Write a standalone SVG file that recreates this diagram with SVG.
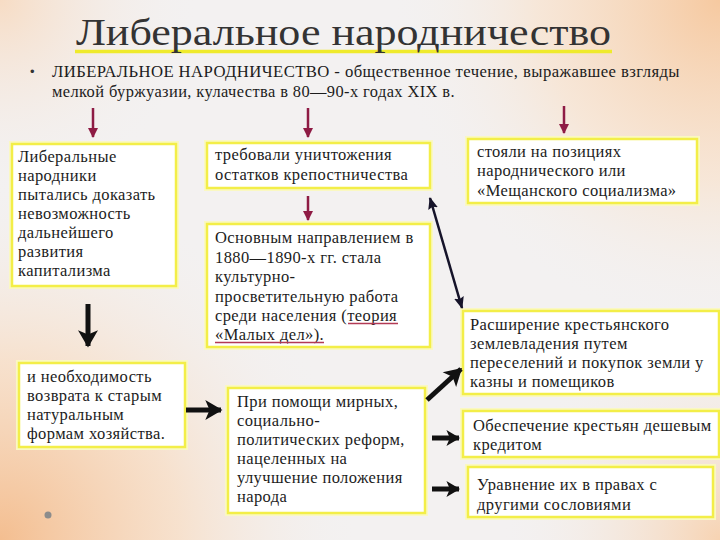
<svg xmlns="http://www.w3.org/2000/svg" width="720" height="540" viewBox="0 0 720 540">
<defs>
  <radialGradient id="bgTR" cx="720" cy="0" r="330" gradientUnits="userSpaceOnUse">
    <stop offset="0" stop-color="#F6C9A0"/>
    <stop offset="0.55" stop-color="#F8E2CD" stop-opacity="0.7"/>
    <stop offset="1" stop-color="#F3F1F1" stop-opacity="0"/>
  </radialGradient>
  <radialGradient id="bgBL" cx="0" cy="540" r="360" gradientUnits="userSpaceOnUse">
    <stop offset="0" stop-color="#F4BE90"/>
    <stop offset="0.5" stop-color="#F8DCC2" stop-opacity="0.75"/>
    <stop offset="1" stop-color="#F3F1F1" stop-opacity="0"/>
  </radialGradient>
  <radialGradient id="bgBR" cx="720" cy="540" r="220" gradientUnits="userSpaceOnUse">
    <stop offset="0" stop-color="#F7D3B2"/>
    <stop offset="1" stop-color="#F3F1F1" stop-opacity="0"/>
  </radialGradient>
  <radialGradient id="bgTL" cx="0" cy="0" r="200" gradientUnits="userSpaceOnUse">
    <stop offset="0" stop-color="#F7DCC4"/>
    <stop offset="1" stop-color="#F3F1F1" stop-opacity="0"/>
  </radialGradient>
  <marker id="redHead" viewBox="0 0 10 10" refX="9" refY="5" markerWidth="10" markerHeight="10" markerUnits="userSpaceOnUse" orient="auto">
    <path d="M0,0 L10,5 L0,10 z" fill="#8E1B44"/>
  </marker>
  <marker id="thinHead" viewBox="0 0 12 10" refX="11" refY="5" markerWidth="12" markerHeight="10" markerUnits="userSpaceOnUse" orient="auto-start-reverse">
    <path d="M0,0 L12,5 L0,10 L2,5 z" fill="#16142A"/>
  </marker>
  <marker id="thickHead" viewBox="0 0 12 14" refX="11" refY="7" markerWidth="14" markerHeight="16" markerUnits="userSpaceOnUse" orient="auto">
    <path d="M0,0 L12,7 L0,14 L3,7 z" fill="#111"/>
  </marker>
  <marker id="bigHead" viewBox="0 0 12 14" refX="11" refY="7" markerWidth="18" markerHeight="20" markerUnits="userSpaceOnUse" orient="auto">
    <path d="M0,0 L12,7 L0,14 L3,7 z" fill="#111"/>
  </marker>
  <style>
    .box { fill: #FFFFFF; stroke: #F3EE48; stroke-width: 2.5; }
    .glow { fill: none; stroke: #FAF8C2; stroke-width: 6; }
    .t { font-family: "Liberation Serif", "DejaVu Serif", serif; font-size: 16.5px; letter-spacing: 0.4px; fill: #1C1C1C; }
    .red { stroke: #8E1B44; stroke-width: 2.5; fill: none; }
    .thin { stroke: #16142A; stroke-width: 2.5; fill: none; }
    .thick { stroke: #111; stroke-width: 5; fill: none; }
    .ul { stroke: #B23A55; stroke-width: 1.3; }
  </style>
</defs>

<rect x="0" y="0" width="720" height="540" fill="#F3F1F1"/>
<rect x="0" y="0" width="720" height="540" fill="url(#bgTL)"/>
<rect x="0" y="0" width="720" height="540" fill="url(#bgTR)"/>
<rect x="0" y="0" width="720" height="540" fill="url(#bgBL)"/>
<rect x="0" y="0" width="720" height="540" fill="url(#bgBR)"/>

<g id="title">
  <line x1="75" y1="51.5" x2="612" y2="51.5" stroke="#EFEA2C" stroke-width="3.5"/>
  <text x="76" y="45" textLength="535" lengthAdjust="spacingAndGlyphs" font-family="Liberation Serif, DejaVu Serif, serif" font-size="38" fill="#333333">Либеральное народничество</text>
</g>

<g id="definition">
  <text x="30" y="76" font-family="Liberation Sans, sans-serif" font-size="13" fill="#333">•</text>
  <text class="t" x="52" y="77" textLength="628" lengthAdjust="spacingAndGlyphs">ЛИБЕРАЛЬНОЕ НАРОДНИЧЕСТВО - общественное течение, выражавшее взгляды</text>
  <text class="t" x="52" y="97" textLength="403" lengthAdjust="spacingAndGlyphs">мелкой буржуазии, кулачества в 80—90-х годах XIX в.</text>
</g>

<g id="node-liberal">
  <rect class="glow" x="12" y="144" width="164" height="142"/>
  <rect class="box" x="12" y="144" width="164" height="142"/>
  <text class="t" x="18" y="162">Либеральные</text>
  <text class="t" x="18" y="181">народники</text>
  <text class="t" x="18" y="200">пытались доказать</text>
  <text class="t" x="18" y="219">невозможность</text>
  <text class="t" x="18" y="238">дальнейшего</text>
  <text class="t" x="18" y="257">развития</text>
  <text class="t" x="18" y="276">капитализма</text>
</g>

<g id="node-demand">
  <rect class="glow" x="207" y="143" width="223" height="45"/>
  <rect class="box" x="207" y="143" width="223" height="45"/>
  <text class="t" x="215" y="160">требовали уничтожения</text>
  <text class="t" x="215" y="180">остатков крепостничества</text>
</g>

<g id="node-direction">
  <rect class="glow" x="207" y="224" width="223" height="123"/>
  <rect class="box" x="207" y="224" width="223" height="123"/>
  <text class="t" x="215" y="243">Основным направлением в</text>
  <text class="t" x="215" y="263">1880—1890-х гг. стала</text>
  <text class="t" x="215" y="282">культурно-</text>
  <text class="t" x="215" y="302">просветительную работа</text>
  <text class="t" x="215" y="321">среди населения (теория</text>
  <text class="t" x="215" y="340">«Малых дел»).</text>
  <line class="ul" x1="348" y1="323.5" x2="398" y2="323.5"/>
  <line class="ul" x1="215" y1="342.5" x2="324" y2="342.5"/>
</g>

<g id="node-position">
  <rect class="glow" x="468" y="139" width="229" height="64"/>
  <rect class="box" x="468" y="139" width="229" height="64"/>
  <text class="t" x="477" y="157">стояли на позициях</text>
  <text class="t" x="477" y="176">народнического или</text>
  <text class="t" x="477" y="196">«Мещанского социализма»</text>
</g>

<g id="node-return">
  <rect class="glow" x="19" y="363" width="166" height="84"/>
  <rect class="box" x="19" y="363" width="166" height="84"/>
  <text class="t" x="27" y="382">и необходимость</text>
  <text class="t" x="27" y="401">возврата к старым</text>
  <text class="t" x="27" y="420">натуральным</text>
  <text class="t" x="27" y="439">формам хозяйства.</text>
</g>

<g id="node-reforms">
  <rect class="glow" x="228" y="388" width="197" height="125"/>
  <rect class="box" x="228" y="388" width="197" height="125"/>
  <text class="t" x="237" y="407">При помощи мирных,</text>
  <text class="t" x="237" y="426">социально-</text>
  <text class="t" x="237" y="445">политических реформ,</text>
  <text class="t" x="237" y="464">нацеленных на</text>
  <text class="t" x="237" y="483">улучшение положения</text>
  <text class="t" x="237" y="502">народа</text>
</g>

<g id="node-land">
  <rect class="glow" x="463" y="311" width="256" height="83"/>
  <rect class="box" x="463" y="311" width="256" height="83"/>
  <text class="t" x="470" y="330">Расширение крестьянского</text>
  <text class="t" x="470" y="349">землевладения путем</text>
  <text class="t" x="470" y="368">переселений и покупок земли у</text>
  <text class="t" x="470" y="387">казны и помещиков</text>
</g>

<g id="node-credit">
  <rect class="glow" x="463" y="411" width="256" height="46"/>
  <rect class="box" x="463" y="411" width="256" height="46"/>
  <text class="t" x="473" y="431">Обеспечение крестьян дешевым</text>
  <text class="t" x="473" y="450">кредитом</text>
</g>

<g id="node-rights">
  <rect class="glow" x="468" y="467" width="245" height="50"/>
  <rect class="box" x="468" y="467" width="245" height="50"/>
  <text class="t" x="477" y="490">Уравнение их в правах с</text>
  <text class="t" x="477" y="510">другими сословиями</text>
</g>

<g id="connectors">
  <line class="red" x1="93" y1="108" x2="93" y2="137" marker-end="url(#redHead)"/>
  <line class="red" x1="308" y1="108" x2="308" y2="137" marker-end="url(#redHead)"/>
  <line class="red" x1="564" y1="106" x2="564" y2="133" marker-end="url(#redHead)"/>
  <line class="red" x1="308" y1="196" x2="308" y2="220" marker-end="url(#redHead)"/>
  <line class="thin" x1="430" y1="198" x2="462" y2="308" marker-start="url(#thinHead)" marker-end="url(#thinHead)"/>
  <line class="thick" x1="88" y1="304" x2="88" y2="346" marker-end="url(#bigHead)"/>
  <line class="thick" x1="186" y1="410" x2="221" y2="410" marker-end="url(#bigHead)"/>
  <line class="thick" x1="427" y1="400" x2="461" y2="369" marker-end="url(#bigHead)"/>
  <line class="thick" x1="432" y1="438" x2="459" y2="438" stroke-width="4" marker-end="url(#thickHead)"/>
  <line class="thick" x1="432" y1="489" x2="459" y2="489" stroke-width="4" marker-end="url(#thickHead)"/>
</g>

<circle cx="48" cy="515" r="3.5" fill="#8C8C8C"/>
</svg>
